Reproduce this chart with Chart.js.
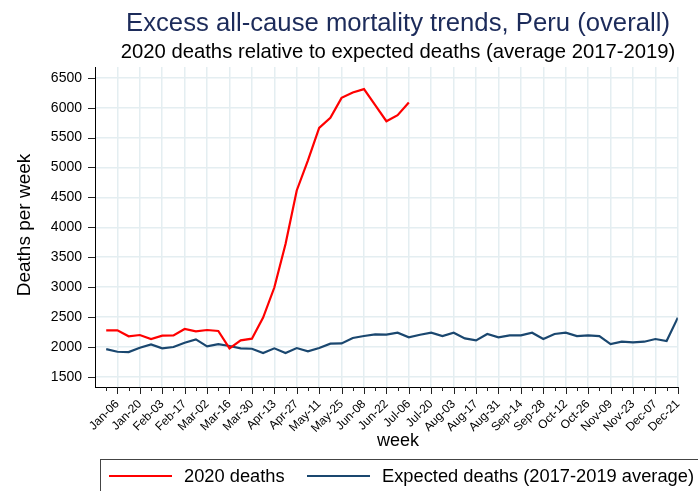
<!DOCTYPE html>
<html>
<head>
<meta charset="utf-8">
<script src="https://cdn.jsdelivr.net/npm/chart.js@4.4.1/dist/chart.umd.min.js"></script>
<style>
  html, body { margin: 0; padding: 0; background: #ffffff; }
  #wrap { width: 698px; height: 491px; position: relative; }
</style>
</head>
<body>
<div id="wrap"><canvas id="chart" width="698" height="491"></canvas></div>
<script>
// Week starting dates (Mondays) from Dec-30 through Dec-21
const weeks = [
  "Dec-30", "Jan-06", "Jan-13", "Jan-20", "Jan-27", "Feb-03", "Feb-10", "Feb-17", "Feb-24",
  "Mar-02", "Mar-09", "Mar-16", "Mar-23", "Mar-30", "Apr-06", "Apr-13", "Apr-20", "Apr-27",
  "May-04", "May-11", "May-18", "May-25", "Jun-01", "Jun-08", "Jun-15", "Jun-22", "Jun-29",
  "Jul-06", "Jul-13", "Jul-20", "Jul-27", "Aug-03", "Aug-10", "Aug-17", "Aug-24", "Aug-31",
  "Sep-07", "Sep-14", "Sep-21", "Sep-28", "Oct-05", "Oct-12", "Oct-19", "Oct-26", "Nov-02",
  "Nov-09", "Nov-16", "Nov-23", "Nov-30", "Dec-07", "Dec-14", "Dec-21"
];

// Registered deaths per week in 2020 (available up to Jul-06)
const deaths2020 = [
  2278, 2278, 2177, 2199, 2132, 2188, 2193, 2300, 2261, 2283, 2267, 1976, 2110, 2138,
  2490, 2993, 3721, 4616, 5119, 5661, 5829, 6164, 6255, 6310, 6042, 5773, 5874, 6085
];

// Expected deaths per week: average of 2017-2019
const expectedDeaths = [
  1964, 1919, 1914, 1986, 2043, 1976, 1998, 2070, 2127, 2010, 2048, 2015, 1976, 1970,
  1897, 1976, 1897, 1981, 1925, 1981, 2054, 2059, 2149, 2182, 2211, 2205, 2238, 2160,
  2204, 2238, 2182, 2238, 2143, 2110, 2216, 2160, 2194, 2194, 2238, 2132, 2216, 2238,
  2182, 2194, 2182, 2048, 2087, 2076, 2087, 2132, 2099, 2490
];

const yTicks = [1500, 2000, 2500, 3000, 3500, 4000, 4500, 5000, 5500, 6000, 6500];

const titleText = "Excess all-cause mortality trends, Peru (overall)";
const subtitleText = "2020 deaths relative to expected deaths (average 2017-2019)";
const yTitle = "Deaths per week";
const xTitle = "week";
const seriesNames = ["2020 deaths", "Expected deaths (2017-2019 average)"];

const RED = "#ff0000";
const NAVY = "#1a476f";
const GRID = "#e4eef1";
const FONT = "'Liberation Sans', Arial, Helvetica, sans-serif";

const toPoints = arr => arr.map((v, i) => ({ x: i, y: v }));
const isLabelled = i => i % 2 === 1;

// Tick marks, titles and the framed legend
const decorations = {
  id: 'decorations',
  afterDraw(chart) {
    const { ctx, chartArea, scales } = chart;
    const xs = scales.x, ys = scales.y;
    ctx.save();

    // tick marks
    ctx.strokeStyle = "#222";
    ctx.lineWidth = 1;
    ctx.beginPath();
    weeks.forEach((w, i) => {
      const px = Math.round(xs.getPixelForValue(i)) + 0.5;
      const len = isLabelled(i) ? 7 : 4;
      ctx.moveTo(px, chartArea.bottom);
      ctx.lineTo(px, chartArea.bottom + len);
    });
    yTicks.forEach(v => {
      const py = Math.round(ys.getPixelForValue(v)) + 0.5;
      ctx.moveTo(chartArea.left, py);
      ctx.lineTo(chartArea.left - 7, py);
    });
    ctx.stroke();

    // titles
    const cx = 398;
    ctx.textAlign = "center";
    ctx.textBaseline = "alphabetic";
    ctx.fillStyle = "#1c2b5a";
    ctx.font = "25.7px " + FONT;
    ctx.fillText(titleText, cx, 31);
    ctx.fillStyle = "#000";
    ctx.font = "20.3px " + FONT;
    ctx.fillText(subtitleText, cx, 58);

    // axis titles
    ctx.font = "18px " + FONT;
    ctx.fillText(xTitle, cx, 446);
    ctx.save();
    ctx.translate(30, 225);
    ctx.rotate(-Math.PI / 2);
    ctx.font = "19px " + FONT;
    ctx.fillText(yTitle, 0, 0);
    ctx.restore();

    // legend
    ctx.strokeStyle = "#444";
    ctx.lineWidth = 1;
    ctx.strokeRect(100.5, 459.5, 700, 60);
    const ly = 476;
    const items = [
      { color: RED, x0: 109, x1: 172, tx: 184 },
      { color: NAVY, x0: 307, x1: 370, tx: 382 }
    ];
    ctx.font = "18.3px " + FONT;
    ctx.textAlign = "left";
    items.forEach((it, k) => {
      ctx.strokeStyle = it.color;
      ctx.lineWidth = 2.2;
      ctx.beginPath();
      ctx.moveTo(it.x0, ly);
      ctx.lineTo(it.x1, ly);
      ctx.stroke();
      ctx.fillStyle = "#000";
      ctx.fillText(seriesNames[k], it.tx, 482);
    });

    ctx.restore();
  }
};

new Chart(document.getElementById('chart'), {
  type: 'line',
  data: {
    datasets: [
      {
        label: seriesNames[0],
        data: toPoints(deaths2020),
        borderColor: RED,
        backgroundColor: RED,
        borderWidth: 2.2,
        pointRadius: 0,
        tension: 0
      },
      {
        label: seriesNames[1],
        data: toPoints(expectedDeaths),
        borderColor: NAVY,
        backgroundColor: NAVY,
        borderWidth: 2.2,
        pointRadius: 0,
        tension: 0
      }
    ]
  },
  options: {
    responsive: false,
    animation: false,
    events: [],
    layout: { padding: { top: 67, right: 16, bottom: 0, left: 0 } },
    plugins: {
      legend: { display: false },
      title: { display: false },
      tooltip: { enabled: false }
    },
    scales: {
      x: {
        type: 'linear',
        min: -1,
        max: weeks.length - 1,
        afterBuildTicks: axis => { axis.ticks = weeks.map((w, i) => ({ value: i })); },
        afterFit: axis => { axis.height = 104; },
        ticks: {
          autoSkip: false,
          minRotation: 45,
          maxRotation: 45,
          padding: 10,
          color: "#000",
          font: { family: FONT, size: 12 },
          callback: v => (isLabelled(v) ? weeks[v] : '')
        },
        grid: {
          drawTicks: false,
          lineWidth: 1.5,
          color: c => (c.tick && isLabelled(c.tick.value)) ? GRID : 'rgba(0,0,0,0)'
        },
        border: { display: true, color: "#000", width: 1 }
      },
      y: {
        min: 1330,
        max: 6680,
        afterBuildTicks: axis => { axis.ticks = yTicks.map(v => ({ value: v })); },
        afterFit: axis => { axis.width = 95; },
        ticks: {
          padding: 13,
          color: "#000",
          font: { family: FONT, size: 14 },
          callback: v => String(v)
        },
        grid: { drawTicks: false, lineWidth: 1.5, color: GRID },
        border: { display: true, color: "#000", width: 1 }
      }
    }
  },
  plugins: [decorations]
});
</script>
</body>
</html>
